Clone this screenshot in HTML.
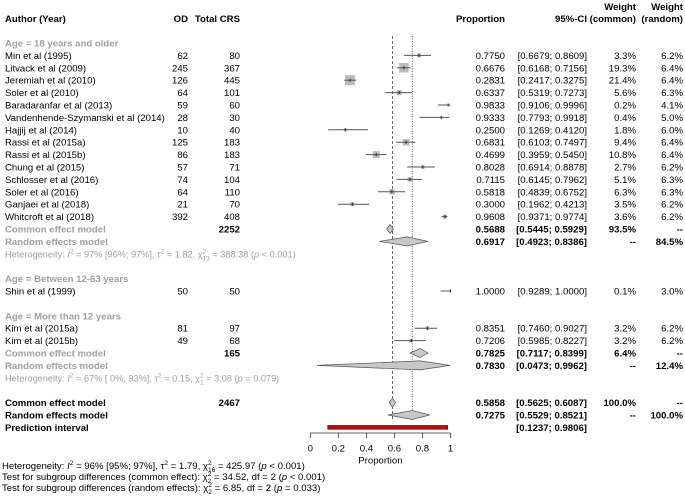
<!DOCTYPE html>
<html><head><meta charset="utf-8"><style>
html,body{margin:0;padding:0;background:#fff}
svg{display:block;font-family:"Liberation Sans",Arial,sans-serif;font-size:9.6px}
.g{fill:#a0a0a0}.b{font-weight:bold}
</style></head><body>
<svg id="fp" width="685" height="496" viewBox="0 0 685 496" xmlns="http://www.w3.org/2000/svg">
<g class="b">
<text x="5" y="22">Author (Year)</text>
<text x="188" y="22" text-anchor="end">OD</text>
<text x="240" y="22" text-anchor="end">Total CRS</text>
<text x="505" y="22" text-anchor="end">Proportion</text>
<text x="587" y="22" text-anchor="end">95%-CI</text>
<text x="636" y="10" text-anchor="end">Weight</text>
<text x="636" y="22" text-anchor="end">(common)</text>
<text x="683" y="10" text-anchor="end">Weight</text>
<text x="683" y="22" text-anchor="end">(random)</text>
</g>
<g id="marks"></g>
<g id="texts"></g>
<g id="axis"></g>
<g id="footer"></g>
</svg>
<script>
const studyNames=["Min et al (1995)","Litvack et al (2009)","Jeremiah et al (2010)","Soler et al (2010)","Baradaranfar et al (2013)","Vandenhende-Szymanski et al (2014)","Hajjij et al (2014)","Rassi et al (2015a)","Rassi et al (2015b)","Chung et al (2015)","Schlosser et al (2016)","Soler et al (2016)","Ganjaei et al (2018)","Whitcroft et al (2018)","Shin et al (1999)","Kim et al (2015a)","Kim et al (2015b)"];
const studyRows=[1,2,3,4,5,6,7,8,9,10,11,12,13,14,20,23,24];
const odValues=[62,245,126,64,59,28,10,125,86,57,74,64,21,392,50,81,49];
const totalValues=[80,367,445,101,60,30,40,183,183,71,104,110,70,408,50,97,68];
const propValues=[0.7750,0.6676,0.2831,0.6337,0.9833,0.9333,0.2500,0.6831,0.4699,0.8028,0.7115,0.5818,0.3000,0.9608,1.0000,0.8351,0.7206];
const lowerValues=[0.6679,0.6168,0.2417,0.5319,0.9106,0.7793,0.1269,0.6103,0.3959,0.6914,0.6145,0.4839,0.1962,0.9371,0.9289,0.7460,0.5985];
const upperValues=[0.8609,0.7156,0.3275,0.7273,0.9996,0.9918,0.4120,0.7497,0.5450,0.8878,0.7962,0.6752,0.4213,0.9774,1.0000,0.9027,0.8227];
const weightCommon=[3.3,19.3,21.4,5.6,0.2,0.4,1.8,9.4,10.8,2.7,5.1,6.3,3.5,3.6,0.1,3.2,3.2];
const weightRandom=[6.2,6.4,6.4,6.3,4.1,5.0,6.0,6.4,6.4,6.2,6.3,6.3,6.2,6.2,3.0,6.2,6.2];
const pooledLabels=["Common effect model","Random effects model","Common effect model","Random effects model","Common effect model","Random effects model"];
const pooledRows=[15,16,25,26,29,30];
const pooledEst=[0.5688,0.6917,0.7825,0.7830,0.5858,0.7275];
const pooledLo=[0.5445,0.4923,0.7117,0.0473,0.5625,0.5529];
const pooledHi=[0.5929,0.8386,0.8399,0.9962,0.6087,0.8521];
const pooledTotal=["2252","","165","","2467",""];
const pooledWc=["93.5%","--","6.4%","--","100.0%","--"];
const pooledWr=["--","84.5%","--","12.4%","--","100.0%"];
const predInterval=[0.1237,0.9806];
const axisTicks=[0,0.2,0.4,0.6,0.8,1];
const tickLabels=["0","0.2","0.4","0.6","0.8","1"];
const groupLabels=["Age = 18 years and older","Age = Between 12-63 years","Age = More than 12 years"];
const groupRows=[0,19,22];
const hetRows=[17,27];

const NS="http://www.w3.org/2000/svg";
const X=v=>310.3+v*140.2;
const Y=r=>43+r*12.4;
const marks=document.getElementById('marks'),texts=document.getElementById('texts'),axis=document.getElementById('axis'),footer=document.getElementById('footer');
function el(t,a,p){const e=document.createElementNS(NS,t);for(const k in a)e.setAttribute(k,a[k]);p.appendChild(e);return e;}
function txt(p,x,y,s,anchor,cls){const e=el('text',{x:x,y:y+3.5,'text-anchor':anchor||'start'},p);if(cls)e.setAttribute('class',cls);e.textContent=s;return e;}
const f4=v=>v.toFixed(4);
function rich(t,parts){parts.forEach(p=>{const s=el('tspan',{},t);
  if(typeof p==='string'){s.textContent=p;}
  else if(p[0]==='i'){s.setAttribute('font-style','italic');s.textContent=p[1];}
  else if(p[0]==='sup'){s.setAttribute('baseline-shift','4');s.setAttribute('font-size','6.5');s.textContent=p[1];}
  else if(p[0]==='sub'){s.setAttribute('baseline-shift','-3');s.setAttribute('font-size','6.5');s.setAttribute('dx','-3.6');s.textContent=p[1];}
});}

let l=el('line',{x1:X(pooledEst[4]),x2:X(pooledEst[4]),y1:36,y2:420,stroke:'#444','stroke-dasharray':'3,2','stroke-width':0.8},marks);


l=el('line',{x1:X(pooledEst[5]),x2:X(pooledEst[5]),y1:36,y2:420,stroke:'#444','stroke-dasharray':'1,1.5','stroke-width':0.8},marks);



groupRows.forEach((r,i)=>{const t=txt(texts,5,Y(r),groupLabels[i],'start','g b');

});

studyNames.forEach((n,i)=>{
 const y=Y(studyRows[i]);
 const g=el('g',{},texts);
 
 
 txt(g,5,y,n);txt(g,188,y,String(odValues[i]),'end');txt(g,240,y,String(totalValues[i]),'end');
 txt(g,505,y,f4(propValues[i]),'end');
 txt(g,587,y,'['+f4(lowerValues[i])+'; '+f4(upperValues[i])+']','end');
 txt(g,636,y,weightCommon[i].toFixed(1)+'%','end');txt(g,683,y,weightRandom[i].toFixed(1)+'%','end');
 const m=el('g',{},marks);
 
 
 const s=10*Math.sqrt(weightCommon[i]/21.4);
 el('rect',{x:X(propValues[i])-s/2,y:y-s/2,width:s,height:s,fill:'#bbb'},m);
 el('line',{x1:X(lowerValues[i]),x2:X(upperValues[i]),y1:y,y2:y,stroke:'#555','stroke-width':1},m);
 el('line',{x1:X(propValues[i]),x2:X(propValues[i]),y1:y-1.5,y2:y+1.5,stroke:'#222','stroke-width':1},m);
});

pooledLabels.forEach((n,i)=>{
 const y=Y(pooledRows[i]);const overall=i>=4;
 const g=el('g',{},texts);
 
 
 txt(g,5,y,n,'start',overall?'b':'g b');
 if(pooledTotal[i])txt(g,240,y,pooledTotal[i],'end','b');
 txt(g,505,y,f4(pooledEst[i]),'end','b');
 txt(g,587,y,'['+f4(pooledLo[i])+'; '+f4(pooledHi[i])+']','end','b');
 txt(g,636,y,pooledWc[i],'end','b');txt(g,683,y,pooledWr[i],'end','b');
 const d=el('polygon',{points:`${X(pooledLo[i])},${y} ${X(pooledEst[i])},${y-4.5} ${X(pooledHi[i])},${y} ${X(pooledEst[i])},${y+4.5}`,fill:'#c8c8c8',stroke:'#555','stroke-width':0.7},marks);
 
 
});
const hetTexts=[
 ['Heterogeneity: ',['i','I'],['sup','2'],' = 97% [96%; 97%], τ',['sup','2'],' = 1.82, χ',['sup','2'],['sub','13'],' = 388.38 (',['i','p'],' < 0.001)'],
 ['Heterogeneity: ',['i','I'],['sup','2'],' = 67% [ 0%; 93%], τ',['sup','2'],' = 0.15, χ',['sup','2'],['sub','1'],' = 3.08 (',['i','p'],' = 0.079)']];
hetRows.forEach((r,i)=>{
 const t=el('text',{x:5,y:Y(r)+3.5,fill:'#a0a0a0','font-size':'9.2'},texts);
 
 
 rich(t,hetTexts[i]);
});
const pr=el('rect',{x:X(predInterval[0]),y:Y(31)-2,width:X(predInterval[1])-X(predInterval[0]),height:4,fill:'#b01010',stroke:'#600','stroke-width':0.5},marks);


txt(texts,5,Y(31),'Prediction interval','start','b');
txt(texts,587,Y(31),'['+f4(predInterval[0])+'; '+f4(predInterval[1])+']','end','b');

el('line',{x1:X(0),x2:X(1),y1:433,y2:433,stroke:'#333','stroke-width':0.8},axis);
axisTicks.forEach((v,i)=>{
 el('line',{x1:X(v),x2:X(v),y1:433,y2:438,stroke:'#333','stroke-width':0.8},axis);
 const t=txt(axis,X(v),448,tickLabels[i],'middle');
 
 
});
const at=txt(axis,X(0.5),460,'Proportion','middle');



const footLines=[
 ['Heterogeneity: ',['i','I'],['sup','2'],' = 96% [95%; 97%], τ',['sup','2'],' = 1.79, χ',['sup','2'],['sub','16'],' = 425.97 (',['i','p'],' < 0.001)'],
 ['Test for subgroup differences (common effect): χ',['sup','2'],['sub','2'],' = 34.52, df = 2 (',['i','p'],' < 0.001)'],
 ['Test for subgroup differences (random effects): χ',['sup','2'],['sub','2'],' = 6.85, df = 2 (',['i','p'],' = 0.033)']];
footLines.forEach((parts,i)=>{
 const t=el('text',{x:2,y:469+i*11},footer);
 
 
 rich(t,parts);
});
</script>
</body></html>
